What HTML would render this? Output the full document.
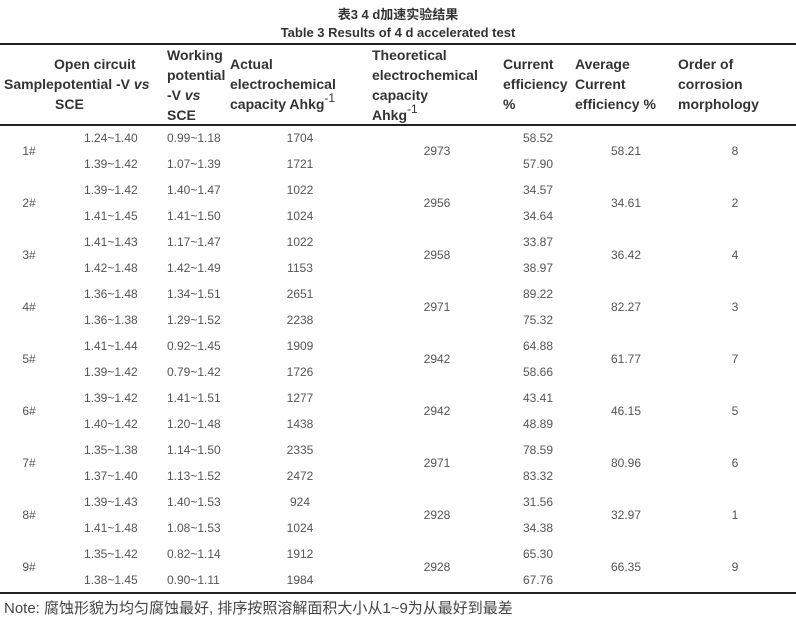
<!DOCTYPE html>
<html><head><meta charset="utf-8"><style>
body{margin:0;background:#fff;width:796px;height:624px;position:relative;overflow:hidden;font-family:"Liberation Sans","Noto Sans CJK SC",sans-serif}
.a{position:absolute;white-space:nowrap}
.h{font-weight:bold;font-size:14px;color:#333;line-height:20px}
.d{font-size:12px;color:#555;line-height:26px}
.c{transform:translateX(-50%)}
.r{transform:translateX(-100%)}
.line{position:absolute;left:0;width:796px;background:#222;height:1px}
sup{font-size:12px;font-weight:normal;vertical-align:7px;line-height:0}
</style></head><body>
<div class="a h c" style="left:398px;top:5px;font-size:13px">表3 4 d加速实验结果</div>
<div class="a h c" style="left:398px;top:23px;font-size:13px">Table 3 Results of 4 d accelerated test</div>
<div class="line" style="top:43px;height:2px"></div>
<div class="line" style="top:124px;height:1.5px"></div>
<div class="line" style="top:592px;height:1.5px"></div>

<div class="a h" style="left:54px;top:54px">Open circuit</div>
<div class="a h" style="left:4px;top:74px">Samplepotential -V <i>vs</i></div>
<div class="a h" style="left:55px;top:94px">SCE</div>
<div class="a h" style="left:167px;top:45px">Working<br>potential<br>-V <i>vs</i><br>SCE</div>
<div class="a h" style="left:230px;top:54px">Actual<br>electrochemical<br>capacity Ahkg<sup>-1</sup></div>
<div class="a h" style="left:372px;top:45px">Theoretical<br>electrochemical<br>capacity<br>Ahkg<sup>-1</sup></div>
<div class="a h" style="left:503px;top:54px">Current<br>efficiency<br>%</div>
<div class="a h" style="left:575px;top:54px">Average<br>Current<br>efficiency %</div>
<div class="a h" style="left:678px;top:54px">Order of<br>corrosion<br>morphology</div>

<div class="a" style="left:4px;top:597px;font-size:15px;color:#444">Note: 腐蚀形貌为均匀腐蚀最好, 排序按照溶解面积大小从1~9为从最好到最差</div>

<div style="position:absolute;left:0;top:125px;width:796px">
<div style="position:relative;height:52px"><div class="a d c" style="left:29px;top:13px">1#</div><div class="a d" style="left:84px;top:0">1.24~1.40</div><div class="a d" style="left:84px;top:26px">1.39~1.42</div><div class="a d" style="left:167px;top:0">0.99~1.18</div><div class="a d" style="left:167px;top:26px">1.07~1.39</div><div class="a d c" style="left:300px;top:0">1704</div><div class="a d c" style="left:300px;top:26px">1721</div><div class="a d c" style="left:437px;top:13px">2973</div><div class="a d r" style="left:553px;top:0">58.52</div><div class="a d r" style="left:553px;top:26px">57.90</div><div class="a d c" style="left:626px;top:13px">58.21</div><div class="a d c" style="left:735px;top:13px">8</div></div>
<div style="position:relative;height:52px"><div class="a d c" style="left:29px;top:13px">2#</div><div class="a d" style="left:84px;top:0">1.39~1.42</div><div class="a d" style="left:84px;top:26px">1.41~1.45</div><div class="a d" style="left:167px;top:0">1.40~1.47</div><div class="a d" style="left:167px;top:26px">1.41~1.50</div><div class="a d c" style="left:300px;top:0">1022</div><div class="a d c" style="left:300px;top:26px">1024</div><div class="a d c" style="left:437px;top:13px">2956</div><div class="a d r" style="left:553px;top:0">34.57</div><div class="a d r" style="left:553px;top:26px">34.64</div><div class="a d c" style="left:626px;top:13px">34.61</div><div class="a d c" style="left:735px;top:13px">2</div></div>
<div style="position:relative;height:52px"><div class="a d c" style="left:29px;top:13px">3#</div><div class="a d" style="left:84px;top:0">1.41~1.43</div><div class="a d" style="left:84px;top:26px">1.42~1.48</div><div class="a d" style="left:167px;top:0">1.17~1.47</div><div class="a d" style="left:167px;top:26px">1.42~1.49</div><div class="a d c" style="left:300px;top:0">1022</div><div class="a d c" style="left:300px;top:26px">1153</div><div class="a d c" style="left:437px;top:13px">2958</div><div class="a d r" style="left:553px;top:0">33.87</div><div class="a d r" style="left:553px;top:26px">38.97</div><div class="a d c" style="left:626px;top:13px">36.42</div><div class="a d c" style="left:735px;top:13px">4</div></div>
<div style="position:relative;height:52px"><div class="a d c" style="left:29px;top:13px">4#</div><div class="a d" style="left:84px;top:0">1.36~1.48</div><div class="a d" style="left:84px;top:26px">1.36~1.38</div><div class="a d" style="left:167px;top:0">1.34~1.51</div><div class="a d" style="left:167px;top:26px">1.29~1.52</div><div class="a d c" style="left:300px;top:0">2651</div><div class="a d c" style="left:300px;top:26px">2238</div><div class="a d c" style="left:437px;top:13px">2971</div><div class="a d r" style="left:553px;top:0">89.22</div><div class="a d r" style="left:553px;top:26px">75.32</div><div class="a d c" style="left:626px;top:13px">82.27</div><div class="a d c" style="left:735px;top:13px">3</div></div>
<div style="position:relative;height:52px"><div class="a d c" style="left:29px;top:13px">5#</div><div class="a d" style="left:84px;top:0">1.41~1.44</div><div class="a d" style="left:84px;top:26px">1.39~1.42</div><div class="a d" style="left:167px;top:0">0.92~1.45</div><div class="a d" style="left:167px;top:26px">0.79~1.42</div><div class="a d c" style="left:300px;top:0">1909</div><div class="a d c" style="left:300px;top:26px">1726</div><div class="a d c" style="left:437px;top:13px">2942</div><div class="a d r" style="left:553px;top:0">64.88</div><div class="a d r" style="left:553px;top:26px">58.66</div><div class="a d c" style="left:626px;top:13px">61.77</div><div class="a d c" style="left:735px;top:13px">7</div></div>
<div style="position:relative;height:52px"><div class="a d c" style="left:29px;top:13px">6#</div><div class="a d" style="left:84px;top:0">1.39~1.42</div><div class="a d" style="left:84px;top:26px">1.40~1.42</div><div class="a d" style="left:167px;top:0">1.41~1.51</div><div class="a d" style="left:167px;top:26px">1.20~1.48</div><div class="a d c" style="left:300px;top:0">1277</div><div class="a d c" style="left:300px;top:26px">1438</div><div class="a d c" style="left:437px;top:13px">2942</div><div class="a d r" style="left:553px;top:0">43.41</div><div class="a d r" style="left:553px;top:26px">48.89</div><div class="a d c" style="left:626px;top:13px">46.15</div><div class="a d c" style="left:735px;top:13px">5</div></div>
<div style="position:relative;height:52px"><div class="a d c" style="left:29px;top:13px">7#</div><div class="a d" style="left:84px;top:0">1.35~1.38</div><div class="a d" style="left:84px;top:26px">1.37~1.40</div><div class="a d" style="left:167px;top:0">1.14~1.50</div><div class="a d" style="left:167px;top:26px">1.13~1.52</div><div class="a d c" style="left:300px;top:0">2335</div><div class="a d c" style="left:300px;top:26px">2472</div><div class="a d c" style="left:437px;top:13px">2971</div><div class="a d r" style="left:553px;top:0">78.59</div><div class="a d r" style="left:553px;top:26px">83.32</div><div class="a d c" style="left:626px;top:13px">80.96</div><div class="a d c" style="left:735px;top:13px">6</div></div>
<div style="position:relative;height:52px"><div class="a d c" style="left:29px;top:13px">8#</div><div class="a d" style="left:84px;top:0">1.39~1.43</div><div class="a d" style="left:84px;top:26px">1.41~1.48</div><div class="a d" style="left:167px;top:0">1.40~1.53</div><div class="a d" style="left:167px;top:26px">1.08~1.53</div><div class="a d c" style="left:300px;top:0">924</div><div class="a d c" style="left:300px;top:26px">1024</div><div class="a d c" style="left:437px;top:13px">2928</div><div class="a d r" style="left:553px;top:0">31.56</div><div class="a d r" style="left:553px;top:26px">34.38</div><div class="a d c" style="left:626px;top:13px">32.97</div><div class="a d c" style="left:735px;top:13px">1</div></div>
<div style="position:relative;height:52px"><div class="a d c" style="left:29px;top:13px">9#</div><div class="a d" style="left:84px;top:0">1.35~1.42</div><div class="a d" style="left:84px;top:26px">1.38~1.45</div><div class="a d" style="left:167px;top:0">0.82~1.14</div><div class="a d" style="left:167px;top:26px">0.90~1.11</div><div class="a d c" style="left:300px;top:0">1912</div><div class="a d c" style="left:300px;top:26px">1984</div><div class="a d c" style="left:437px;top:13px">2928</div><div class="a d r" style="left:553px;top:0">65.30</div><div class="a d r" style="left:553px;top:26px">67.76</div><div class="a d c" style="left:626px;top:13px">66.35</div><div class="a d c" style="left:735px;top:13px">9</div></div>
</div>
</body></html>
